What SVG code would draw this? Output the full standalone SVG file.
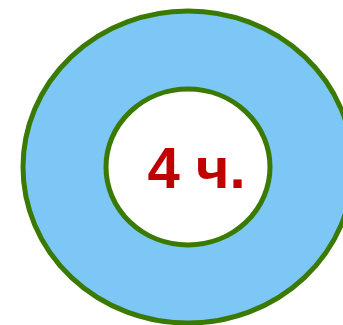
<svg xmlns="http://www.w3.org/2000/svg" width="343" height="325" viewBox="0 0 343 325">
<style>
.ring{stroke:#3a7a00;stroke-width:5}
.lbl{font-family:"Liberation Sans",Arial,sans-serif;font-weight:bold;font-size:58px;fill:#c00000}
</style>
<rect width="343" height="325" fill="#ffffff"/>
<g id="outer"><ellipse class="ring" cx="188" cy="167" rx="165" ry="156" fill="#7cc7f5"/></g>
<g id="inner"><ellipse class="ring" cx="188" cy="167" rx="82" ry="78" fill="#ffffff"/>
<text class="lbl" x="196.5" y="188" text-anchor="middle">4 ч.</text></g>
</svg>
